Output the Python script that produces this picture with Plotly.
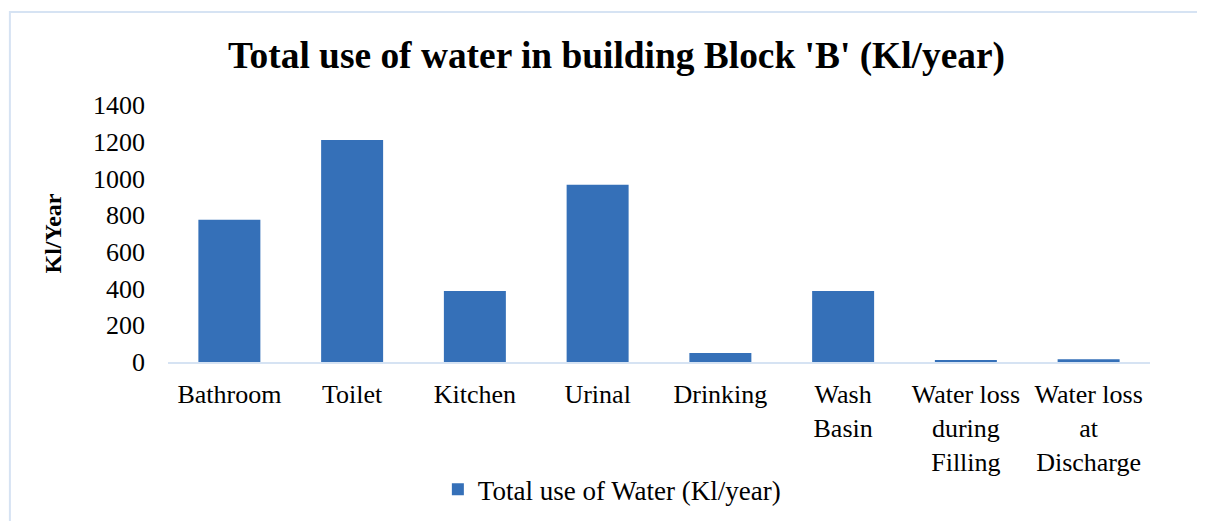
import plotly.graph_objects as go

categories = ["Bathroom", "Toilet", "Kitchen", "Urinal", "Drinking",
              "Wash<br>Basin", "Water loss<br>during<br>Filling", "Water loss<br>at<br>Discharge"]
values = [775, 1210, 387, 965, 49, 387, 8, 15]
series_name = "Total use of Water (Kl/year)"
y_ticks = [0, 200, 400, 600, 800, 1000, 1200, 1400]

SERIF = "Liberation Serif, Times New Roman, serif"

fig = go.Figure()
fig.add_trace(go.Bar(
    x=categories, y=values, name=series_name,
    marker=dict(color="#3570b8", line=dict(width=0)),
    showlegend=True,
))

# outer chart border
fig.add_shape(type="rect", xref="paper", yref="paper",
              x0=-0.161, x1=1.054, y0=-0.66, y1=1.362,
              line=dict(color="#d6e3f3", width=2), fillcolor="rgba(0,0,0,0)", layer="below")

fig.update_layout(
    width=1205, height=521,
    margin=dict(l=160, r=63, t=97, b=167),
    paper_bgcolor="white", plot_bgcolor="white",
    font=dict(family=SERIF, size=26, color="#000000"),
    title=dict(text="<b>Total use of water in building Block 'B' (Kl/year)</b>",
               x=0.505, xanchor="center", y=0.91, yanchor="middle",
               font=dict(family=SERIF, size=37.4, color="#000000")),
    bargap=0.495,
    showlegend=True,
    legend=dict(orientation="h", x=0.452, xanchor="center", y=-0.497, yanchor="middle",
                font=dict(family=SERIF, size=27), itemwidth=30),
    xaxis=dict(showline=True, linecolor="#d6e3f3", linewidth=2, ticks="",
               showgrid=False, tickfont=dict(family=SERIF, size=26),
               ticklabelstandoff=8),
    yaxis=dict(range=[0, 1400], tickvals=y_ticks, showgrid=False, zeroline=False,
               showline=False, ticks="", tickfont=dict(family=SERIF, size=26),
               ticklabelstandoff=22,
               title=dict(text="<b>Kl/Year</b>", font=dict(family=SERIF, size=24), standoff=24)),
)

fig.write_html("out.html")
